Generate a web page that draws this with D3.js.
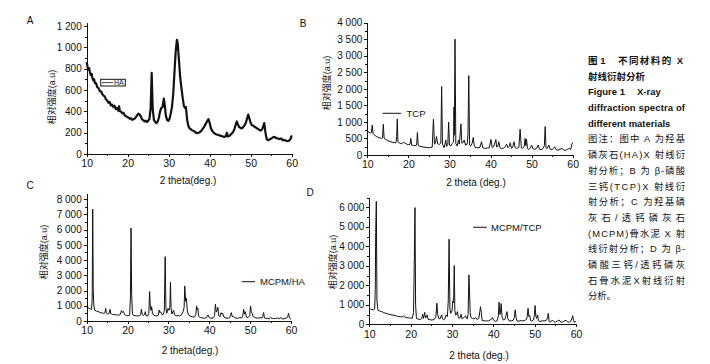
<!DOCTYPE html>
<html>
<head>
<meta charset="utf-8">
<script src="https://d3js.org/d3.v7.min.js"></script>
<style>
body { margin: 0; background: #fff; }
svg text { font-family: "Liberation Sans", Arial, "Noto Sans CJK SC", sans-serif; fill: #111; }
.axis path, .axis line { stroke: #111; stroke-width: 1; shape-rendering: crispEdges; }
</style>
</head>
<body>
<svg id="xrd" width="710" height="364"></svg>
<script>
// 2theta (deg) / intensity (a.u)
const haPoints = [[10.0,860],[10.2,820],[10.4,790],[10.6,805],[10.8,760],[11.0,740],[11.2,752],[11.4,712],[11.6,690],[11.8,702],[12.0,665],[12.3,662],[12.6,625],[12.9,618],[13.2,590],[13.5,588],[13.8,560],[14.1,548],[14.4,540],[14.7,512],[15.0,502],[15.3,480],[15.6,488],[15.9,455],[16.2,462],[16.5,440],[16.8,452],[17.1,420],[17.4,432],[17.7,405],[17.9,448],[18.1,400],[18.4,396],[18.7,380],[19.0,386],[19.3,360],[19.6,356],[19.9,345],[20.2,342],[20.5,330],[20.8,336],[21.1,320],[21.4,326],[21.7,332],[22.0,346],[22.3,362],[22.6,378],[22.9,370],[23.2,352],[23.5,326],[23.8,316],[24.1,305],[24.4,312],[24.7,300],[25.0,312],[25.3,330],[25.6,430],[25.85,760],[26.1,420],[26.4,320],[26.7,300],[27.0,290],[27.3,302],[27.6,340],[27.9,400],[28.2,432],[28.5,440],[28.8,520],[29.0,470],[29.3,362],[29.6,320],[29.9,310],[30.2,330],[30.5,380],[30.8,442],[31.1,560],[31.4,760],[31.7,960],[32.0,1070],[32.2,1040],[32.5,880],[32.8,720],[33.1,620],[33.4,530],[33.7,452],[34.0,430],[34.2,442],[34.5,320],[34.8,262],[35.1,240],[35.4,232],[35.8,220],[36.2,216],[36.6,200],[37.0,195],[37.4,202],[37.8,210],[38.2,230],[38.6,252],[39.0,280],[39.4,310],[39.7,326],[40.0,290],[40.3,240],[40.7,212],[41.1,195],[41.5,186],[41.9,180],[42.3,176],[42.7,170],[43.1,166],[43.5,160],[43.9,166],[44.2,200],[44.4,165],[44.8,170],[45.2,186],[45.6,200],[46.0,230],[46.3,270],[46.6,305],[46.9,276],[47.2,250],[47.5,246],[47.8,240],[48.1,250],[48.4,262],[48.8,290],[49.1,330],[49.4,370],[49.7,330],[50.0,290],[50.3,270],[50.6,266],[50.9,255],[51.2,250],[51.5,240],[51.8,236],[52.1,225],[52.4,220],[52.7,226],[53.0,250],[53.3,290],[53.6,200],[53.9,140],[54.2,130],[54.6,136],[55.0,145],[55.4,156],[55.8,160],[56.2,150],[56.6,146],[57.0,140],[57.4,146],[57.8,130],[58.2,132],[58.6,125],[59.0,120],[59.4,126],[59.7,140],[60.0,175]];

const tcpPoints = [[10.0,720],[10.4,690],[10.8,660],[11.0,680],[11.2,900],[11.4,640],[11.8,600],[12.2,560],[12.6,540],[13.0,520],[13.5,500],[13.7,520],[13.9,930],[14.1,500],[14.5,470],[15.0,430],[15.5,410],[16.0,390],[16.5,370],[17.0,370],[17.15,560],[17.3,1090],[17.45,420],[17.8,360],[18.3,340],[18.8,380],[19.2,360],[19.6,330],[20.0,310],[20.4,320],[20.6,500],[20.8,300],[21.2,290],[21.6,280],[22.0,300],[22.2,680],[22.4,290],[22.8,260],[23.3,250],[23.8,240],[24.3,230],[24.8,220],[25.3,220],[25.8,240],[26.1,1080],[26.35,330],[26.6,360],[26.85,560],[27.1,340],[27.5,320],[27.9,360],[28.1,2070],[28.3,320],[28.7,220],[29.1,450],[29.3,260],[29.6,320],[29.8,990],[30.0,300],[30.4,280],[30.7,350],[31.0,400],[31.1,1450],[31.2,600],[31.35,3500],[31.55,350],[31.9,270],[32.2,450],[32.4,330],[32.8,940],[33.0,360],[33.3,380],[33.6,450],[33.9,300],[34.3,320],[34.5,600],[34.7,2400],[34.9,300],[35.2,280],[35.5,350],[35.8,530],[36.0,300],[36.3,230],[36.9,220],[37.4,230],[37.8,400],[38.1,220],[38.6,200],[39.2,210],[39.7,220],[40.1,470],[40.4,230],[40.8,260],[41.3,470],[41.5,240],[41.8,260],[42.0,400],[42.3,220],[42.7,190],[43.2,210],[43.6,250],[43.9,330],[44.2,220],[44.5,260],[44.8,370],[45.1,200],[45.4,240],[45.7,400],[46.0,220],[46.5,200],[46.9,230],[47.2,780],[47.5,220],[47.8,200],[48.2,260],[48.4,500],[48.6,280],[48.75,480],[49.0,200],[49.3,170],[49.7,210],[50.0,300],[50.3,190],[50.8,170],[51.2,200],[51.6,300],[51.9,180],[52.3,160],[52.8,200],[53.1,280],[53.3,860],[53.5,220],[53.8,200],[54.2,300],[54.5,180],[55.0,160],[55.3,200],[55.6,250],[55.9,170],[56.4,140],[56.9,170],[57.4,200],[57.8,150],[58.2,140],[58.7,170],[59.2,200],[59.5,160],[59.8,330],[60.0,380]];

const mcpmHaPoints = [[10.0,900],[10.3,860],[10.6,830],[10.9,800],[11.2,760],[11.35,1500],[11.47,7350],[11.6,2000],[11.75,1000],[12.0,700],[12.4,650],[12.8,620],[13.3,560],[13.8,520],[14.2,500],[14.5,560],[14.65,830],[14.8,520],[15.1,470],[15.5,500],[15.7,760],[15.9,480],[16.3,430],[16.8,420],[17.3,400],[17.8,390],[18.2,420],[18.5,680],[18.8,560],[19.0,620],[19.3,420],[19.7,360],[20.1,340],[20.5,380],[20.7,1500],[20.85,6100],[21.0,1800],[21.2,420],[21.6,360],[22.1,340],[22.6,330],[23.0,350],[23.2,440],[23.4,770],[23.6,400],[23.9,360],[24.2,450],[24.35,620],[24.5,350],[24.9,330],[25.2,500],[25.4,1930],[25.6,850],[25.75,700],[25.9,940],[26.1,500],[26.4,380],[26.8,340],[27.2,330],[27.5,380],[27.75,720],[27.9,550],[28.1,600],[28.4,420],[28.8,440],[29.0,700],[29.2,4220],[29.4,800],[29.6,500],[29.9,830],[30.1,700],[30.35,900],[30.5,2540],[30.65,800],[30.85,460],[31.1,600],[31.25,720],[31.5,400],[31.9,340],[32.4,360],[32.8,330],[33.2,400],[33.6,620],[33.85,900],[34.0,2300],[34.2,1300],[34.4,1490],[34.6,720],[34.9,400],[35.3,330],[35.8,280],[36.3,250],[36.7,400],[36.9,990],[37.05,750],[37.2,830],[37.4,300],[37.8,230],[38.3,200],[38.8,180],[39.3,220],[39.7,400],[40.0,220],[40.4,180],[40.9,200],[41.3,350],[41.5,1100],[41.7,600],[41.9,640],[42.1,900],[42.3,350],[42.6,280],[42.9,550],[43.1,450],[43.3,500],[43.6,250],[44.1,200],[44.6,180],[45.0,220],[45.2,380],[45.4,550],[45.6,300],[45.9,280],[46.4,200],[46.9,180],[47.4,220],[47.9,200],[48.2,350],[48.4,770],[48.6,450],[48.8,610],[49.1,250],[49.5,230],[49.9,350],[50.1,990],[50.3,600],[50.5,500],[50.7,300],[50.9,280],[51.4,200],[51.9,180],[52.4,220],[52.9,200],[53.1,300],[53.3,550],[53.5,200],[53.8,170],[54.2,180],[54.6,140],[55.0,240],[55.4,160],[55.8,170],[56.2,160],[56.7,200],[57.1,150],[57.5,220],[58.0,130],[58.6,170],[59.0,200],[59.2,300],[59.4,500],[59.6,250],[59.8,160],[60.0,110]];

const mcpmTcpPoints = [[10.0,820],[10.3,780],[10.6,760],[11.0,740],[11.3,780],[11.45,1800],[11.55,4700],[11.7,6300],[11.85,1200],[12.1,720],[12.5,680],[13.0,650],[13.5,600],[14.0,560],[14.5,530],[15.0,500],[15.5,480],[16.0,460],[16.5,430],[17.0,400],[17.5,390],[18.0,380],[18.3,440],[18.6,360],[19.0,350],[19.5,330],[20.0,320],[20.4,310],[20.7,600],[20.9,3500],[21.05,5980],[21.2,1000],[21.4,300],[21.9,260],[22.4,240],[22.7,300],[22.9,510],[23.1,300],[23.4,610],[23.6,320],[24.0,480],[24.2,260],[24.7,230],[25.2,220],[25.7,250],[26.1,400],[26.35,1080],[26.55,500],[26.8,300],[27.1,280],[27.5,480],[27.7,280],[28.0,220],[28.3,300],[28.6,480],[28.9,400],[29.1,1200],[29.3,4360],[29.5,800],[29.7,560],[30.0,700],[30.2,1200],[30.4,1100],[30.55,3010],[30.7,700],[30.9,470],[31.1,500],[31.3,650],[31.5,400],[31.7,310],[32.0,350],[32.2,510],[32.4,300],[32.7,310],[33.0,380],[33.3,440],[33.5,300],[33.7,280],[33.9,500],[34.1,2530],[34.25,1680],[34.4,600],[34.6,340],[35.0,300],[35.3,270],[35.7,340],[36.0,250],[36.5,300],[36.9,900],[37.1,600],[37.3,200],[37.8,180],[38.3,170],[38.8,180],[39.3,220],[39.8,340],[40.1,200],[40.5,150],[40.9,180],[41.2,400],[41.4,1130],[41.6,500],[41.8,800],[41.9,1060],[42.1,400],[42.4,220],[42.8,250],[43.0,400],[43.3,650],[43.5,300],[43.8,180],[44.3,170],[44.8,200],[45.1,350],[45.3,740],[45.5,350],[45.7,180],[46.2,160],[46.7,190],[47.1,170],[47.6,200],[48.0,250],[48.2,400],[48.4,820],[48.6,400],[48.8,450],[49.0,200],[49.3,170],[49.7,220],[49.9,400],[50.1,960],[50.3,400],[50.5,300],[50.7,480],[50.9,200],[51.3,140],[51.8,180],[52.3,170],[52.8,200],[53.1,300],[53.3,560],[53.5,150],[53.8,110],[54.3,220],[54.7,130],[55.1,110],[55.5,170],[55.9,220],[56.3,120],[56.7,110],[57.2,180],[57.6,200],[58.0,120],[58.4,110],[58.8,180],[59.0,300],[59.2,440],[59.4,200],[59.6,100],[60.0,170]];

const xTicks = [10, 20, 30, 40, 50, 60];
const haYTicks = [0, 200, 400, 600, 800, 1000, 1200];
const tcpYTicks = [0, 500, 1000, 1500, 2000, 2500, 3000, 3500, 4000];
const mcpmHaYTicks = [0, 1000, 2000, 3000, 4000, 5000, 6000, 7000, 8000];
const mcpmTcpYTicks = [0, 1000, 2000, 3000, 4000, 5000, 6000];

const yTitle = '相对强度(a.u)';
const captionLines = [
    ['图 1', '不同材料的 X'],
    '射线衍射分析',
    ['Figure 1', 'X-ray'],
    'diffraction spectra of',
    'different materials',
    '图注：图中 A 为羟基',
    '磷灰石(HA)X 射线衍',
    '射分析；B 为 β-磷酸',
    '三钙(TCP)X  射线衍',
    '射分析；C 为羟基磷',
    '灰石/透钙磷灰石',
    '(MCPM)骨水泥 X 射',
    '线衍射分析；D 为 β-',
    '磷酸三钙/透钙磷灰',
    '石骨水泥X射线衍射',
    '分析。'
];

const svg = d3.select('svg#xrd');

const panels = [
    {letter: 'A', letterAt: [30, 24], points: haPoints, yTicks: haYTicks, minor: 100, yMax: 1230,
     left: 86.7, right: 291.7, bottom: 154, top: 22.8, width: 2.2,
     xTitle: '2 theta(deg.)', xTitleAt: [188, 184], yTitleAt: [52, 97],
     legend: {label: 'HA', boxed: true, x1: 102, x2: 113, y: 82.6, tx: 114}},
    {letter: 'B', letterAt: [303, 27], points: tcpPoints, yTicks: tcpYTicks, minor: 250, yMax: 4000,
     left: 367.3, right: 572.7, bottom: 155, top: 22.7, width: 1,
     xTitle: '2 theta (deg.)', xTitleAt: [476, 186], yTitleAt: [327, 83],
     legend: {label: 'TCP', x1: 382.7, x2: 401, y: 113.3, tx: 406.5}},
    {letter: 'C', letterAt: [30, 189], points: mcpmHaPoints, yTicks: mcpmHaYTicks, minor: 500, yMax: 8400,
     left: 86.7, right: 291, bottom: 321, top: 193, width: 1,
     xTitle: '2 theta(deg.)', xTitleAt: [190, 354], yTitleAt: [43.5, 252],
     legend: {label: 'MCPM/HA', x1: 241.7, x2: 255, y: 281.7, tx: 260}},
    {letter: 'D', letterAt: [310, 196], points: mcpmTcpPoints, yTicks: mcpmTcpYTicks, minor: 500, yMax: 6500,
     left: 369.3, right: 576, bottom: 324.3, top: 197.5, width: 1,
     xTitle: '2 theta (deg.)', xTitleAt: [479, 359], yTitleAt: [333, 262],
     legend: {label: 'MCPM/TCP', x1: 473.3, x2: 486.7, y: 227.3, tx: 491}}
];

const fmt = d => d3.format(',')(d).replace(/,/g, ' ');

panels.forEach(p => {
    const x = d3.scaleLinear().domain([10, 60]).range([p.left, p.right]);
    const y = d3.scaleLinear().domain([0, p.yMax]).range([p.bottom, p.top]);

    // minor ticks first, majors on top
    const yMinor = d3.range(0, p.yMax + 1, p.minor).filter(v => !p.yTicks.includes(v));
    svg.append('g').attr('class', 'axis')
        .attr('transform', `translate(${p.left},0)`)
        .call(d3.axisLeft(y).tickValues(yMinor).tickSize(2).tickSizeOuter(0).tickFormat(''));
    svg.append('g').attr('class', 'axis')
        .attr('transform', `translate(0,${p.bottom})`)
        .call(d3.axisBottom(x).tickValues([15, 25, 35, 45, 55]).tickSize(2).tickSizeOuter(0).tickFormat(''));

    const yAxis = svg.append('g').attr('class', 'axis')
        .attr('transform', `translate(${p.left},0)`)
        .call(d3.axisLeft(y).tickValues(p.yTicks).tickSize(3).tickSizeOuter(0).tickPadding(2).tickFormat(fmt));
    yAxis.selectAll('text').attr('font-size', 10);

    const xAxis = svg.append('g').attr('class', 'axis')
        .attr('transform', `translate(0,${p.bottom})`)
        .call(d3.axisBottom(x).tickValues(xTicks).tickSize(3).tickSizeOuter(0).tickPadding(3));
    xAxis.selectAll('text').attr('font-size', 10.5);

    svg.append('path')
        .datum(p.points)
        .attr('fill', 'none')
        .attr('stroke', '#111')
        .attr('stroke-width', p.width)
        .attr('stroke-linejoin', 'round')
        .attr('d', d3.line().x(d => x(d[0])).y(d => y(d[1])));

    svg.append('text').attr('x', p.letterAt[0]).attr('y', p.letterAt[1])
        .attr('font-size', 10).attr('text-anchor', 'middle').text(p.letter);

    svg.append('text').attr('x', p.xTitleAt[0]).attr('y', p.xTitleAt[1])
        .attr('font-size', 10).attr('text-anchor', 'middle').text(p.xTitle);

    svg.append('text')
        .attr('transform', `translate(${p.yTitleAt[0]},${p.yTitleAt[1]}) rotate(-90)`)
        .attr('font-size', 9).attr('text-anchor', 'middle').attr('dy', '0.35em').text(yTitle);

    const lg = p.legend;
    if (lg.boxed) {
        svg.append('rect').attr('x', 100.7).attr('y', 79.3).attr('width', 24.6).attr('height', 6.7)
            .attr('fill', '#fff').attr('stroke', '#111').attr('stroke-width', 1);
    }
    svg.append('line').attr('x1', lg.x1).attr('x2', lg.x2).attr('y1', lg.y).attr('y2', lg.y)
        .attr('stroke', '#111').attr('stroke-width', lg.boxed ? 0.8 : 1);
    svg.append('text').attr('x', lg.tx).attr('y', lg.y).attr('dy', '0.35em')
        .attr('font-size', lg.boxed ? 7 : 9.5).text(lg.label);
});

// caption on the right
const capX = 588, capWidth = 97;
const justified = [3, 5, 6, 7, 8, 9, 10, 11, 12, 13, 14];
captionLines.forEach((line, i) => {
    const t = svg.append('text')
        .attr('x', capX)
        .attr('y', 60.5 + i * 15.7 + 3.4)
        .attr('font-size', i < 5 ? 9.5 : 9.3)
        .attr('font-weight', i < 5 ? 'bold' : 'normal');
    if (Array.isArray(line)) {
        t.append('tspan').text(line[0]);
        const second = t.append('tspan').attr('x', i === 0 ? 618 : 637).text(line[1]);
        if (i === 0) second.attr('textLength', 65).attr('lengthAdjust', 'spacing');
    } else {
        t.text(line);
        if (justified.includes(i)) t.attr('textLength', capWidth).attr('lengthAdjust', 'spacing');
    }
});
</script>
</body>
</html>
